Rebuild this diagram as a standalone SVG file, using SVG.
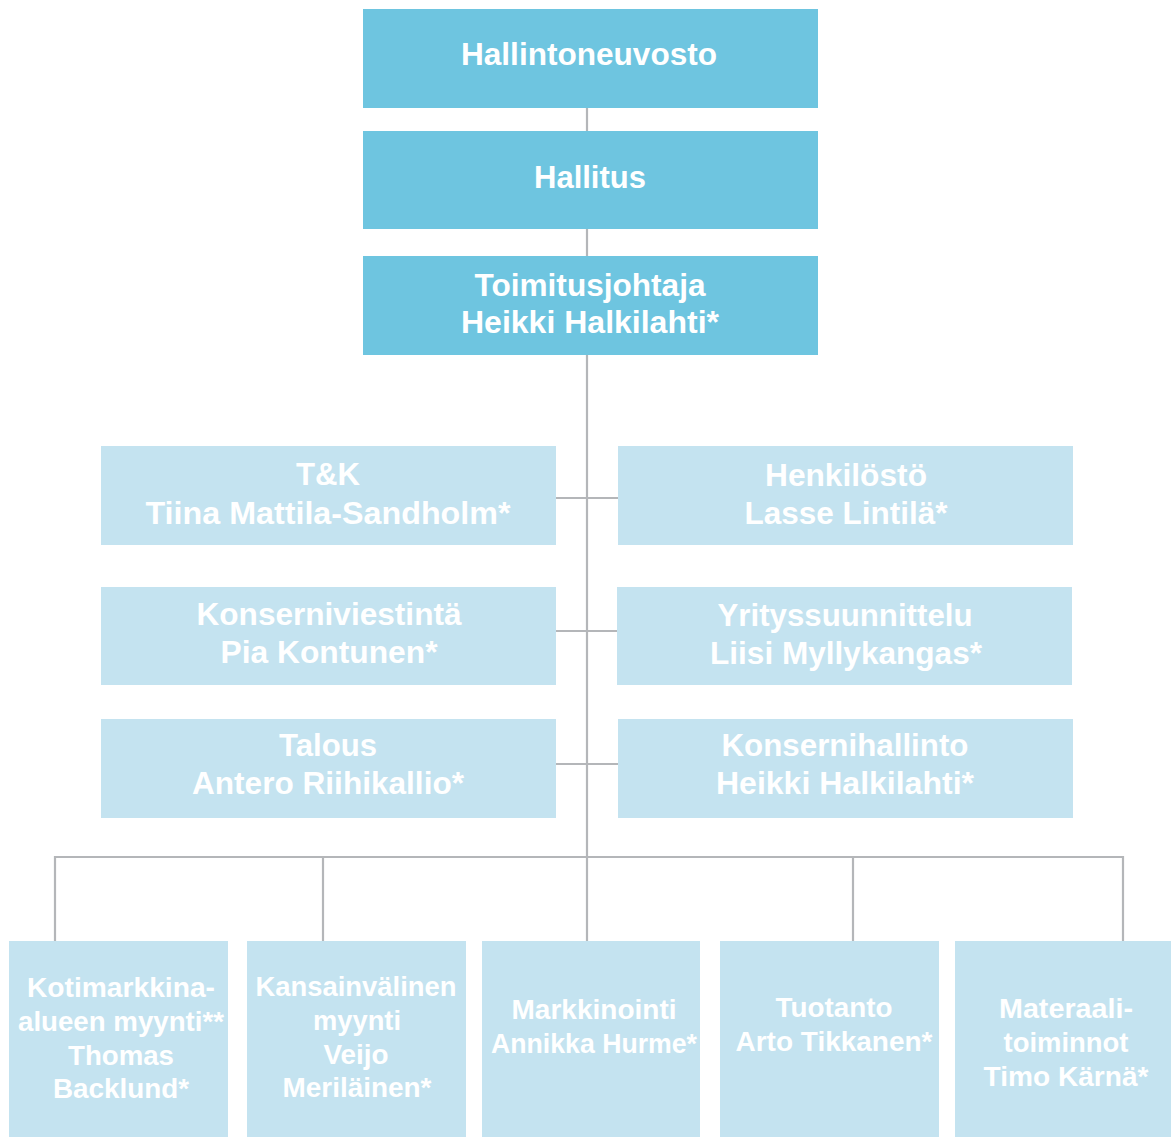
<svg xmlns="http://www.w3.org/2000/svg" width="1171" height="1137" viewBox="0 0 1171 1137">
<style>
.dark{fill:#6EC5E0}
.light{fill:#C4E3F0}
text{font-family:"Liberation Sans",Arial,Helvetica,sans-serif;font-weight:bold;fill:#ffffff;text-anchor:middle}
.t28{font-size:31px}
.t26{font-size:27.5px}
.c{stroke:#B4B6B9;stroke-width:2.2;fill:none}
</style>
<rect width="1171" height="1137" fill="#ffffff"/>
<g id="connectors">
<line class="c" x1="587" y1="108" x2="587" y2="131"/>
<line class="c" x1="587" y1="229" x2="587" y2="256"/>
<line class="c" x1="587" y1="355" x2="587" y2="941"/>
<line class="c" x1="556" y1="498" x2="618" y2="498"/>
<line class="c" x1="556" y1="631" x2="617" y2="631"/>
<line class="c" x1="556" y1="764" x2="618" y2="764"/>
<polyline class="c" points="55,941 55,857 1123,857 1123,941"/>
<line class="c" x1="323" y1="857" x2="323" y2="941"/>
<line class="c" x1="853" y1="857" x2="853" y2="941"/>
</g>
<g id="hallintoneuvosto">
<rect class="dark" x="363" y="9" width="455" height="99"/>
<text class="t28" x="589" y="65" textLength="256" lengthAdjust="spacingAndGlyphs">Hallintoneuvosto</text>
</g>
<g id="hallitus">
<rect class="dark" x="363" y="131" width="455" height="98"/>
<text class="t28" x="590" y="188" textLength="112" lengthAdjust="spacingAndGlyphs">Hallitus</text>
</g>
<g id="toimitusjohtaja">
<rect class="dark" x="363" y="256" width="455" height="99"/>
<text class="t28" x="590" y="296" textLength="231" lengthAdjust="spacingAndGlyphs">Toimitusjohtaja</text>
<text class="t28" x="590" y="333" textLength="258" lengthAdjust="spacingAndGlyphs">Heikki Halkilahti*</text>
</g>
<g id="tk">
<rect class="light" x="101" y="446" width="455" height="99"/>
<text class="t28" x="328" y="485" textLength="64" lengthAdjust="spacingAndGlyphs">T&amp;K</text>
<text class="t28" x="328" y="524" textLength="365" lengthAdjust="spacingAndGlyphs">Tiina Mattila-Sandholm*</text>
</g>
<g id="henkilosto">
<rect class="light" x="618" y="446" width="455" height="99"/>
<text class="t28" x="846" y="486" textLength="162" lengthAdjust="spacingAndGlyphs">Henkilöstö</text>
<text class="t28" x="846" y="524" textLength="203" lengthAdjust="spacingAndGlyphs">Lasse Lintilä*</text>
</g>
<g id="konserniviestinta">
<rect class="light" x="101" y="587" width="455" height="98"/>
<text class="t28" x="329" y="625" textLength="265" lengthAdjust="spacingAndGlyphs">Konserniviestintä</text>
<text class="t28" x="329" y="663" textLength="217" lengthAdjust="spacingAndGlyphs">Pia Kontunen*</text>
</g>
<g id="yrityssuunnittelu">
<rect class="light" x="617" y="587" width="455" height="98"/>
<text class="t28" x="845" y="626" textLength="255" lengthAdjust="spacingAndGlyphs">Yrityssuunnittelu</text>
<text class="t28" x="846" y="664" textLength="272" lengthAdjust="spacingAndGlyphs">Liisi Myllykangas*</text>
</g>
<g id="talous">
<rect class="light" x="101" y="719" width="455" height="99"/>
<text class="t28" x="328" y="756" textLength="98" lengthAdjust="spacingAndGlyphs">Talous</text>
<text class="t28" x="328" y="794" textLength="272" lengthAdjust="spacingAndGlyphs">Antero Riihikallio*</text>
</g>
<g id="konsernihallinto">
<rect class="light" x="618" y="719" width="455" height="99"/>
<text class="t28" x="845" y="756" textLength="247" lengthAdjust="spacingAndGlyphs">Konsernihallinto</text>
<text class="t28" x="845" y="794" textLength="258" lengthAdjust="spacingAndGlyphs">Heikki Halkilahti*</text>
</g>
<g id="kotimarkkina">
<rect class="light" x="9" y="941" width="219" height="196"/>
<text class="t26" x="121" y="997" textLength="188" lengthAdjust="spacingAndGlyphs">Kotimarkkina-</text>
<text class="t26" x="121" y="1031" textLength="206" lengthAdjust="spacingAndGlyphs">alueen myynti**</text>
<text class="t26" x="121" y="1065" textLength="106" lengthAdjust="spacingAndGlyphs">Thomas</text>
<text class="t26" x="121" y="1098" textLength="136" lengthAdjust="spacingAndGlyphs">Backlund*</text>
</g>
<g id="kansainvalinen">
<rect class="light" x="247" y="941" width="219" height="196"/>
<text class="t26" x="356" y="996" textLength="201" lengthAdjust="spacingAndGlyphs">Kansainvälinen</text>
<text class="t26" x="357" y="1030" textLength="88" lengthAdjust="spacingAndGlyphs">myynti</text>
<text class="t26" x="356" y="1064" textLength="65" lengthAdjust="spacingAndGlyphs">Veijo</text>
<text class="t26" x="357" y="1097" textLength="149" lengthAdjust="spacingAndGlyphs">Meriläinen*</text>
</g>
<g id="markkinointi">
<rect class="light" x="482" y="941" width="218" height="196"/>
<text class="t26" x="594" y="1019" textLength="165" lengthAdjust="spacingAndGlyphs">Markkinointi</text>
<text class="t26" x="594" y="1053" textLength="206" lengthAdjust="spacingAndGlyphs">Annikka Hurme*</text>
</g>
<g id="tuotanto">
<rect class="light" x="720" y="941" width="219" height="196"/>
<text class="t26" x="834" y="1017" textLength="117" lengthAdjust="spacingAndGlyphs">Tuotanto</text>
<text class="t26" x="834" y="1051" textLength="197" lengthAdjust="spacingAndGlyphs">Arto Tikkanen*</text>
</g>
<g id="materiaalitoiminnot">
<rect class="light" x="955" y="941" width="216" height="196"/>
<text class="t26" x="1066" y="1018" textLength="134" lengthAdjust="spacingAndGlyphs">Materaali-</text>
<text class="t26" x="1066" y="1052" textLength="125" lengthAdjust="spacingAndGlyphs">toiminnot</text>
<text class="t26" x="1066" y="1086" textLength="165" lengthAdjust="spacingAndGlyphs">Timo Kärnä*</text>
</g>
</svg>
